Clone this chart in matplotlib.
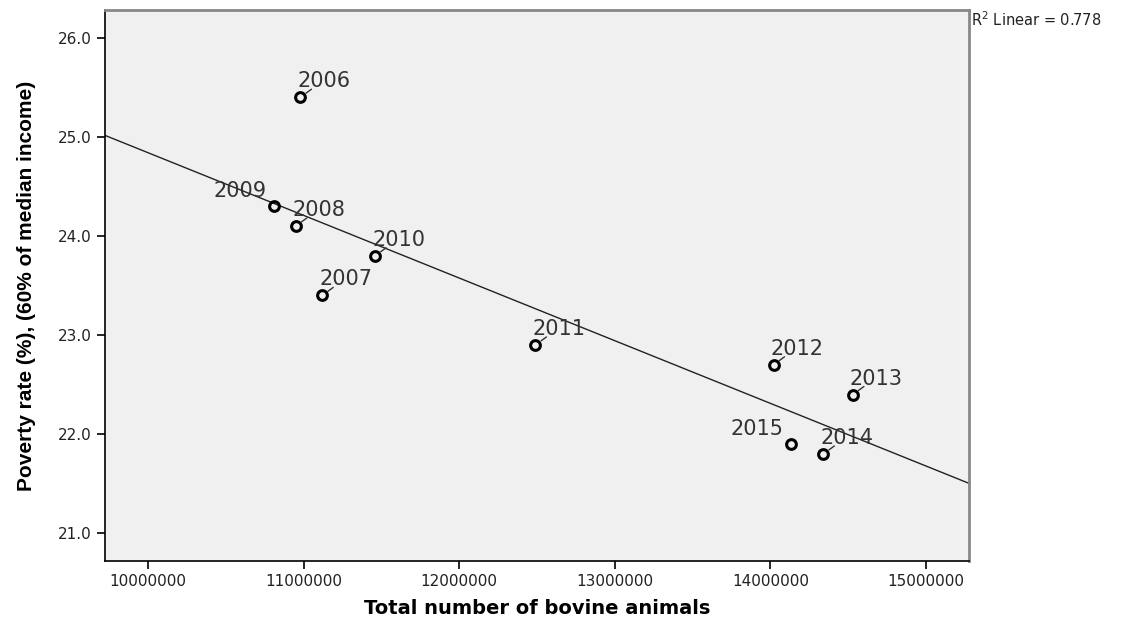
import numpy as np
import matplotlib.pyplot as plt
from matplotlib import font_manager

# bovine animals vs poverty rate, one point per year
years = ['2006', '2007', '2008', '2009', '2010', '2011', '2012', '2013', '2014', '2015']
bovine = [10980000, 11120000, 10950000, 10810000, 11460000, 12490000, 14020000, 14530000, 14340000, 14130000]
poverty = [25.4, 23.4, 24.1, 24.3, 23.8, 22.9, 22.7, 22.4, 21.8, 21.9]
x_ticks = [10000000, 11000000, 12000000, 13000000, 14000000, 15000000]
y_ticks = [21.0, 22.0, 23.0, 24.0, 25.0, 26.0]
r2_text = 'R$^2$ Linear = 0.778'

installed = {f.name for f in font_manager.fontManager.ttflist}
narrow = 'Liberation Sans Narrow' if 'Liberation Sans Narrow' in installed else 'Liberation Sans'
narrow_size = 17 if narrow == 'Liberation Sans Narrow' else 15

plt.rcParams['font.family'] = ['DejaVu Sans']

fig = plt.figure(figsize=(11.32, 6.19), dpi=100)
ax = fig.add_axes([105 / 1132, 1 - 561 / 619, 864 / 1132, 551 / 619])
ax.set_facecolor('#f0f0f0')

ax.set_xlim(9724000, 15276000)
ax.set_ylim(20.72, 26.28)

# fit line across the whole x range
slope, intercept = np.polyfit(bovine, poverty, 1)
xl = np.array(ax.get_xlim())
ax.plot(xl, slope * xl + intercept, color='#222222', lw=1, zorder=2)

ax.plot(bovine, poverty, 'o', ms=7, mfc='none', mec='black', mew=2.2, zorder=3)

for yr, xv, yv in zip(years, bovine, poverty):
    if yr in ('2009', '2015'):
        ax.annotate(yr, (xv, yv), xytext=(-7, 9), textcoords='offset pixels',
                    ha='right', va='baseline', fontsize=15, color='#333333')
    else:
        ax.annotate(yr, (xv, yv), xytext=(-3, 10), textcoords='offset pixels',
                    ha='left', va='baseline', fontsize=15, color='#333333')
        # small leader tick
        ax.annotate('', (xv, yv), xytext=(11, 8), textcoords='offset pixels',
                    arrowprops=dict(arrowstyle='-', color='#333333', lw=1,
                                    shrinkA=0, shrinkB=5))

ax.set_xticks(x_ticks)
ax.set_xticklabels([str(v) for v in x_ticks])
ax.set_yticks(y_ticks)
ax.set_yticklabels([f'{v:.1f}' for v in y_ticks])
ax.tick_params(direction='out', length=6, width=1.2, color='black',
               labelsize=11, labelcolor='#222222')

for s in ['left', 'bottom']:
    ax.spines[s].set_color('black')
    ax.spines[s].set_linewidth(1.2)
for s in ['top', 'right']:
    ax.spines[s].set_color('#888888')
    ax.spines[s].set_linewidth(2)

ax.set_xlabel('Total number of bovine animals', fontsize=14, fontweight='bold',
              labelpad=7)
ax.set_ylabel('Poverty rate (%), (60% of median income)', fontsize=narrow_size,
              fontweight='bold', family=narrow, labelpad=16)

fig.text(971 / 1132, 1 - 26 / 619, r2_text, fontsize=10.5, color='#222222',
         ha='left', va='baseline')

fig.savefig('out.png', dpi=100)
